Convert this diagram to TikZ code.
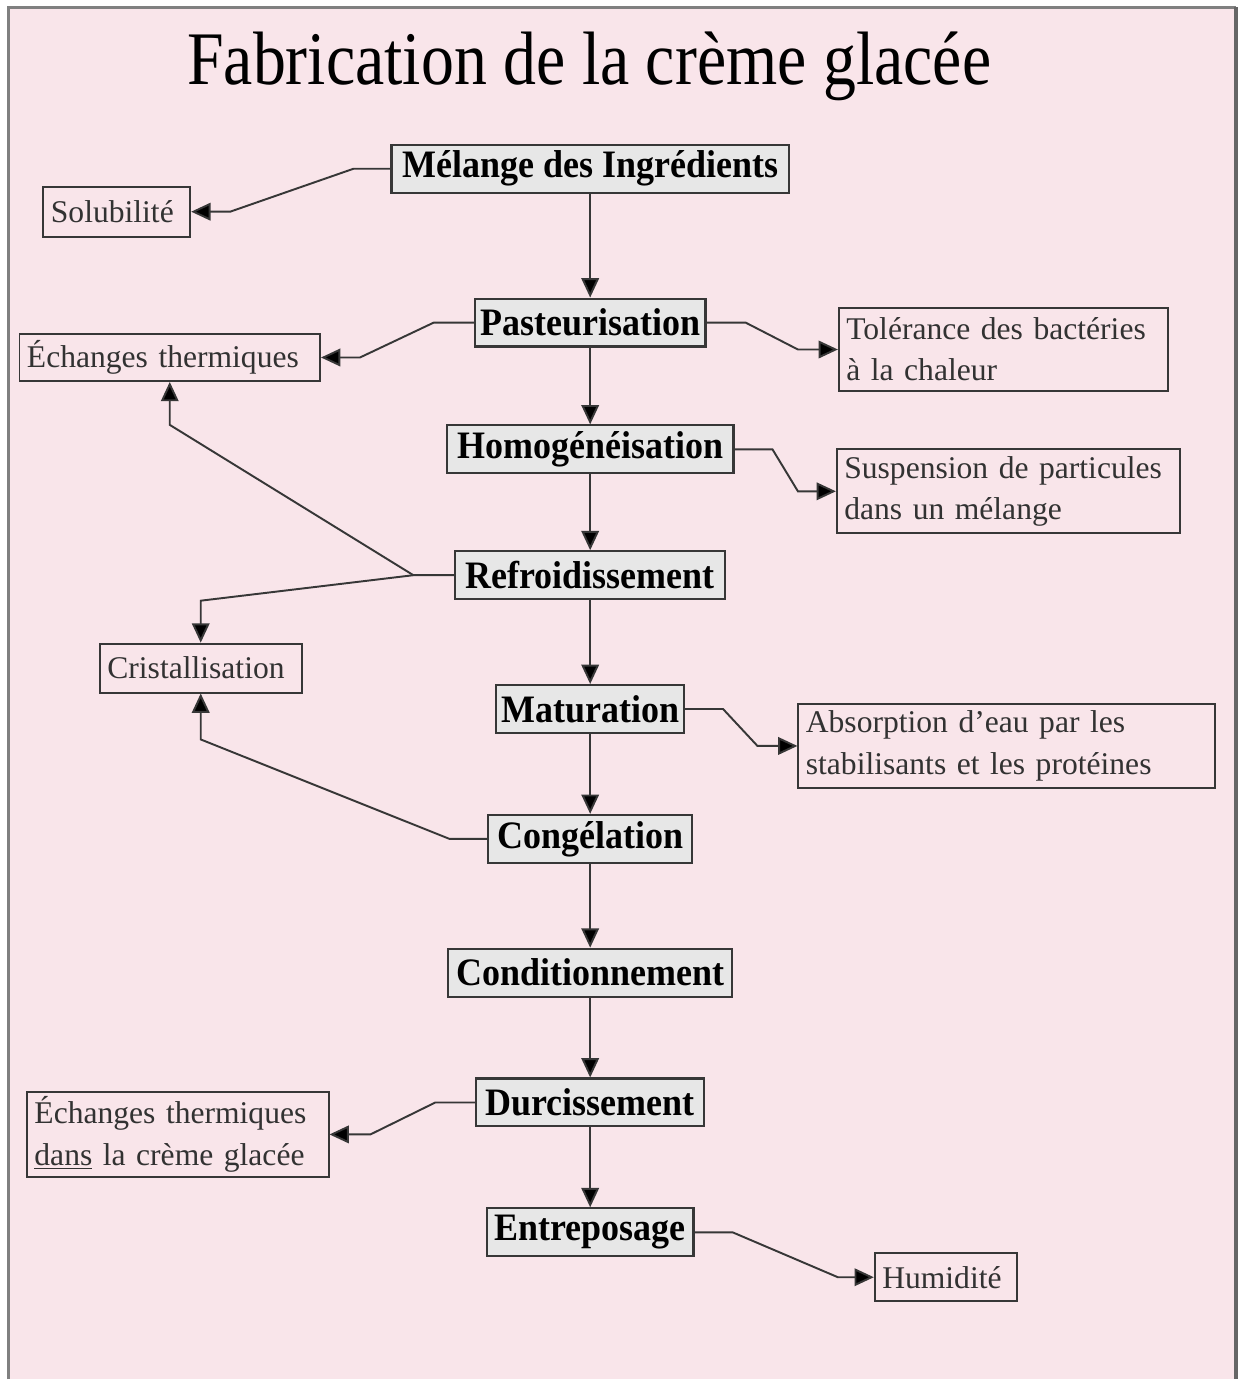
\documentclass[tikz,border=0pt]{standalone}
\usepackage{fontspec}
\setmainfont{Liberation Serif}
\usepackage{tikz}
\usetikzlibrary{shapes, arrows.meta, positioning}
\definecolor{pagepink}{RGB}{249,229,234}
\definecolor{boxgray}{RGB}{231,231,231}
\definecolor{linegray}{RGB}{55,55,55}
\definecolor{textgray}{RGB}{50,50,50}
\tikzstyle{stage} = [draw=linegray, fill=boxgray, line width=1.2pt, rectangle,
    minimum height=0.96cm, inner sep=2pt,
    font=\bfseries\fontsize{20.5}{24}\selectfont]
\tikzstyle{note} = [draw=linegray, line width=1.1pt, rectangle, align=left,
    inner xsep=0.15cm, inner ysep=0.1cm, text=textgray,
    font=\fontsize{18}{23.5}\selectfont]
\tikzstyle{link} = [draw=linegray, line width=1.1pt,
    -{Triangle[length=11pt,width=10pt,fill=black]}]
\newcommand{\tallText}[1]{\scalebox{1}[1.08]{#1}}

\begin{document}
\begin{tikzpicture}
        \fill[white] (0,0) rectangle (24.92,-27.62);
        \fill[pagepink] (0.16,-0.14) rectangle (24.8,-27.62);
        \draw[gray, line width=1.3pt] (0.17,-27.62) -- (0.17,-0.15) -- (24.76,-0.15);
        \draw[gray!80!black, line width=2.2pt] (24.76,-0.15) -- (24.76,-27.62);
        \useasboundingbox (0,0) rectangle (24.92,-27.62);

        \node[font=\fontsize{37.5}{42}\selectfont] at (11.8,-1.32) (title) {\scalebox{1}[1.15]{Fabrication de la crème glacée}};

        \node[stage, minimum width=7.96cm] at (11.82,-3.38) (melange) {\tallText{Mélange des Ingrédients}};
        \node[stage, minimum width=4.62cm] at (11.82,-6.46) (pasteur) {\tallText{Pasteurisation}};
        \node[stage, minimum width=5.74cm] at (11.82,-9.0) (homog) {\tallText{Homogénéisation}};
        \node[stage, minimum width=5.4cm] at (11.82,-11.52) (refroid) {\tallText{Refroidissement}};
        \node[stage, minimum width=3.76cm] at (11.82,-14.2) (matur) {\tallText{Maturation}};
        \node[stage, minimum width=4.08cm] at (11.82,-16.8) (congel) {\tallText{Congélation}};
        \node[stage, minimum width=5.68cm] at (11.82,-19.48) (condit) {\tallText{Conditionnement}};
        \node[stage, minimum width=4.56cm] at (11.82,-22.08) (durciss) {\tallText{Durcissement}};
        \node[stage, minimum width=4.14cm] at (11.82,-24.68) (entrepos) {\tallText{Entreposage}};

        \node[note, text width=2.64cm, minimum height=1.0cm] at (2.34,-4.24) (solub) {Solubilité};
        \node[note, text width=5.72cm, minimum height=0.94cm] at (3.4,-7.16) (echanges) {Échanges thermiques};
        \node[note, text width=6.3cm, minimum height=1.68cm] at (20.1,-7.0) (toler) {Tolérance des bactéries\\à la chaleur};
        \node[note, text width=6.58cm, minimum height=1.68cm] at (20.2,-9.84) (suspens) {Suspension de particules\\dans un mélange};
        \node[note, text width=3.74cm, minimum height=0.98cm] at (4.02,-13.38) (cristal) {Cristallisation};
        \node[note, text width=8.04cm, minimum height=1.68cm] at (20.16,-14.94) (absorp) {Absorption d’eau par les\\stabilisants et les protéines};
        \node[note, text width=5.74cm, minimum height=1.66cm] at (3.56,-22.72) (echcreme) {Échanges thermiques\\\underline{dans} la crème glacée};
        \node[note, text width=2.54cm, minimum height=0.96cm] at (18.94,-25.58) (humid) {Humidité};

        \coordinate (refsplit) at ([xshift=-0.82cm]refroid.west);

        \draw[link] (melange) -- (pasteur);
        \draw[link] (pasteur) -- (homog);
        \draw[link] (homog) -- (refroid);
        \draw[link] (refroid) -- (matur);
        \draw[link] (matur) -- (congel);
        \draw[link] (congel) -- (condit);
        \draw[link] (condit) -- (durciss);
        \draw[link] (durciss) -- (entrepos);

        \draw[link] (melange.west) -- ++(-0.74,0) -- ([xshift=0.78cm]solub.east) -- (solub.east);
        \draw[link] (pasteur.west) -- ++(-0.8,0) -- ([xshift=0.78cm]echanges.east) -- (echanges.east);
        \draw[link] (pasteur.east) -- ++(0.78,0) -- ([xshift=-0.8cm]toler.west) -- (toler.west);
        \draw[link] (homog.east) -- ++(0.76,0) -- ([xshift=-0.76cm]suspens.west) -- (suspens.west);
        \draw[link] (refroid.west) -- (refsplit) -- ([yshift=-0.86cm]echanges.south) -- (echanges.south);
        \draw[link] (refsplit) -- ([yshift=0.84cm]cristal.north) -- (cristal.north);
        \draw[link] (matur.east) -- ++(0.76,0) -- ([xshift=-0.8cm]absorp.west) -- (absorp.west);
        \draw[link] (congel.west) -- ++(-0.76,0) -- ([yshift=-0.92cm]cristal.south) -- (cristal.south);
        \draw[link] (durciss.west) -- ++(-0.8,0) -- ([xshift=0.82cm]echcreme.east) -- (echcreme.east);
        \draw[link] (entrepos.east) -- ++(0.76,0) -- ([xshift=-0.72cm]humid.west) -- (humid.west);
\end{tikzpicture}
\end{document}
